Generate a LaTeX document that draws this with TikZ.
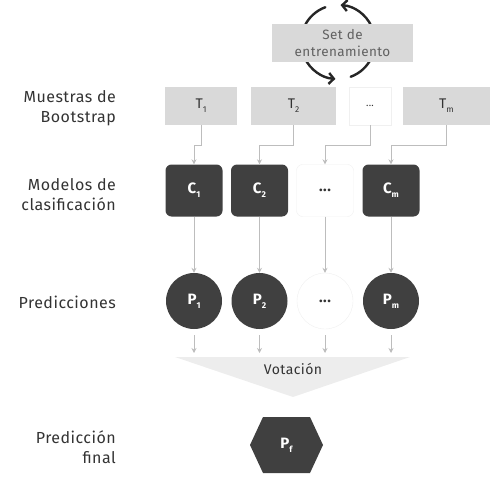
\documentclass[tikz,border=0pt]{standalone}
\usepackage{fontspec}
\setmainfont{Fira Sans}[LetterSpace=3]
\usetikzlibrary{arrows.meta}

\definecolor{darkbox}{HTML}{404040}
\definecolor{lightbox}{HTML}{D9D9D9}
\definecolor{linegray}{HTML}{BDBDBD}
\definecolor{funnelgray}{HTML}{EDEDED}
\definecolor{textgray}{HTML}{333333}

\newcommand{\idx}[1]{\raisebox{-0.5ex}{\fontsize{8.5}{8.5}\selectfont #1}}

\begin{document}
\begin{tikzpicture}
	 [x=1pt,y=-1pt,
	 every node/.style={inner sep=0pt,text=textgray},
	 rowlabel/.style={anchor=east,align=right,font=\fontsize{16}{20}\selectfont},
	 sample/.style={rectangle,fill=lightbox,minimum height=38pt,font=\fontsize{14}{14}\selectfont},
	 model/.style={rectangle,rounded corners=6pt,fill=darkbox,text=white,minimum width=57pt,minimum height=52pt,font=\bfseries\fontsize{15}{15}\selectfont},
	 pred/.style={circle,fill=darkbox,text=white,minimum size=56pt,font=\bfseries\fontsize{15}{15}\selectfont},
	 blank/.style={fill=white,draw=black!6,text=textgray},
	 link/.style={draw=linegray,line width=0.9pt,-{Stealth[length=5pt,width=5pt]}},
	 cycle/.style={line width=2.4pt,black!85,line cap=round}]

	\useasboundingbox (0,0) rectangle (503,492);

	% training set with the refresh arrows behind it
	\coordinate (o) at (338,42);
	\draw[cycle] ([shift={(-155:37)}]o) arc (-155:-110:37);
	\draw[cycle,-{Straight Barb[length=5pt,width=11pt]}] ([shift={(-25:37)}]o) arc (-25:-86:37);
	\draw[cycle] ([shift={(25:37)}]o) arc (25:70:37);
	\draw[cycle,-{Straight Barb[length=5pt,width=11pt]}] ([shift={(155:37)}]o) arc (155:94:37);
	\node[rectangle,fill=lightbox,minimum width=141pt,minimum height=38pt,align=center,
	      text=black!62,font=\fontsize{13.5}{17}\selectfont] (S) at (342.5,43) {Set de\\entrenamiento};

	% row labels
	\node[rowlabel] (L1) at (116,108) {Muestras de\\Bootstrap};
	\node[rowlabel] (L2) at (116,195) {Modelos de\\clasificación};
	\node[rowlabel] (L3) at (116,302) {Predicciones};
	\node[rowlabel] (L4) at (116,447) {Predicción\\final};

	% bootstrap samples
	\node[sample,minimum width=72pt] (T1) at (201,106) {T\idx{1}};
	\node[sample,minimum width=85pt] (T2) at (293.5,106) {T\idx{2}};
	\node[sample,blank,minimum width=42pt] (T3) at (370,106) {\fontsize{10}{10}\selectfont ...};
	\node[sample,minimum width=87pt] (T4) at (446.5,106) {T\idx{m}};

	% classifiers
	\node[model] (C1) at (194,190.5) {C\idx{1}};
	\node[model] (C2) at (259.5,190.5) {C\idx{2}};
	\node[model,blank] (C3) at (325,190.5) {...};
	\node[model] (C4) at (391,190.5) {C\idx{m}};

	% predictions
	\node[pred] (P1) at (194,301) {P\idx{1}};
	\node[pred] (P2) at (259.5,301) {P\idx{2}};
	\node[pred,blank] (P3) at (325,301) {...};
	\node[pred] (P4) at (391,301) {P\idx{m}};

	\foreach \from/\to in {T1/C1,T2/C2,T3/C3,T4/C4}
    \draw[link] (\from.south) -- ++(0,20) -| (\to.north);

	\foreach \from/\to in {C1/P1,C2/P2,C3/P3,C4/P4}
    \draw[link] (\from) -- (\to);

	% voting
	\fill[funnelgray] (175,357) -- (410,357) -- (293,397) -- cycle;
	\node[font=\fontsize{14}{14}\selectfont] (V) at (293,369) {Votación};

	\foreach \n/\x in {1/194,2/259.5,3/325,4/391}
    \coordinate (v\n) at (\x,353);
	\foreach \from/\to in {P1/v1,P2/v2,P3/v3,P4/v4}
    \draw[link,shorten <=6pt] (\from) -- (\to);

	% final prediction
	\fill[darkbox] (250,445) -- (263,417) -- (310,417) -- (323,445) -- (310,473) -- (263,473) -- cycle;
	\node[text=white,font=\bfseries\fontsize{15}{15}\selectfont] (Pf) at (286.5,445) {P\idx{f}};

\end{tikzpicture}
\end{document}
